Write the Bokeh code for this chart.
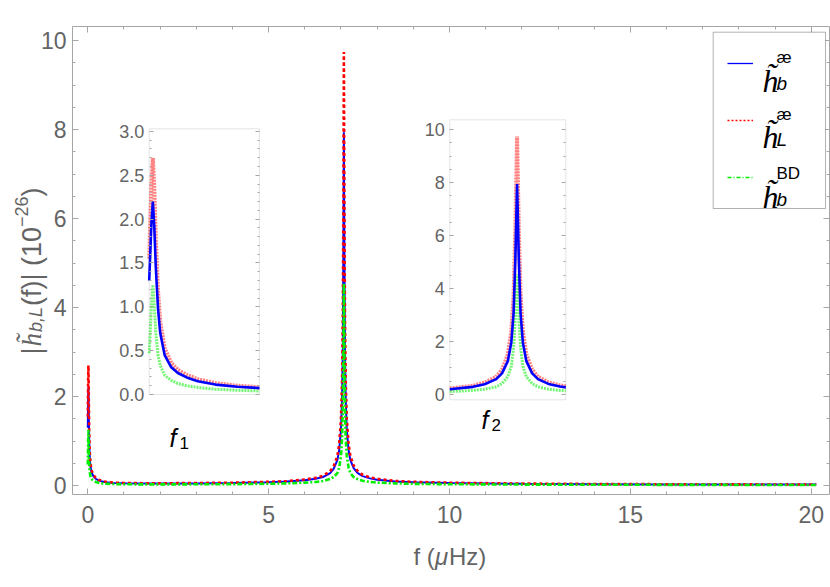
import numpy as np
from bokeh.plotting import figure
from bokeh.models import (Range1d, LinearAxis, FixedTicker, PrintfTickFormatter,
                          BoxAnnotation, Label, Legend, LegendItem, ColumnDataSource)
from bokeh.embed import file_html
from bokeh.resources import INLINE

# ---------------- data ----------------
freq = [0.000, 0.005, 0.010, 0.0165, 0.023, 0.030, 0.040, 0.050, 0.070, 0.100,
        0.130, 0.170, 0.220, 0.300, 0.400, 0.500, 0.700, 1.0, 1.5, 2.0,
        3.0, 4.0, 5.0, 5.5, 6.0, 6.3, 6.5, 6.7, 6.8, 6.9,
        6.95, 7.00, 7.03, 7.05, 7.065, 7.08, 7.095, 7.11, 7.13, 7.16,
        7.21, 7.26, 7.35, 7.45, 7.5, 7.6, 7.8, 8.0, 8.5, 9.0,
        10.0, 12.0, 14.0, 16.0, 18.0, 20.14]
h_b = [1.30, 1.62, 1.95, 2.20, 1.92, 1.45, 0.98, 0.70, 0.45, 0.31,
       0.245, 0.195, 0.152, 0.113, 0.088, 0.073, 0.058, 0.050, 0.046, 0.045,
       0.048, 0.056, 0.072, 0.088, 0.118, 0.150, 0.19, 0.28, 0.38, 0.57,
       0.79, 1.25, 1.95, 3.07, 5.10, 7.94, 5.10, 3.07, 1.95, 1.25,
       0.79, 0.57, 0.39, 0.29, 0.26, 0.21, 0.16, 0.13, 0.09, 0.072,
       0.054, 0.038, 0.030, 0.025, 0.022, 0.020]
h_L = [1.55, 1.98, 2.40, 2.70, 2.36, 1.78, 1.18, 0.83, 0.53, 0.36,
       0.28, 0.225, 0.175, 0.13, 0.10, 0.083, 0.066, 0.057, 0.052, 0.051,
       0.055, 0.064, 0.083, 0.10, 0.135, 0.172, 0.218, 0.32, 0.44, 0.66,
       0.93, 1.50, 2.37, 3.76, 6.25, 9.74, 6.25, 3.76, 2.37, 1.50,
       0.93, 0.66, 0.45, 0.335, 0.30, 0.24, 0.183, 0.15, 0.103, 0.083,
       0.062, 0.044, 0.034, 0.029, 0.025, 0.023]
h_BD = [0.47, 0.72, 1.02, 1.25, 1.02, 0.70, 0.45, 0.33, 0.22, 0.16,
        0.125, 0.10, 0.08, 0.06, 0.048, 0.04, 0.033, 0.028, 0.026, 0.025,
        0.027, 0.031, 0.04, 0.048, 0.064, 0.08, 0.10, 0.145, 0.19, 0.28,
        0.40, 0.66, 1.06, 1.75, 2.90, 4.54, 2.90, 1.75, 1.06, 0.66,
        0.40, 0.28, 0.19, 0.145, 0.13, 0.105, 0.08, 0.066, 0.047, 0.038,
        0.029, 0.021, 0.017, 0.015, 0.013, 0.012]

x_ticks = [0, 5, 10, 15, 20]
y_ticks = [0, 2, 4, 6, 8, 10]
inset1_ticks = [0.0, 0.5, 1.0, 1.5, 2.0, 2.5, 3.0]
inset2_ticks = [0, 2, 4, 6, 8, 10]

main_xlim = (-0.423, 20.506)
main_ylim = (-0.202, 10.315)
inset1_xlim = (0.0, 0.5)
inset1_ylim = (0.0, 3.03)
inset2_xlim = (6.5, 7.5)
inset2_ylim = (-0.21, 10.37)

# ---------------- layout constants (pixels in the picture) ----------------
W, H = 830, 587
MAIN_BOX = (72.0, 829.0, 26.0, 494.0)       # left, right, top, bottom
INSET1_BOX = (148.7, 259.0, 128.3, 394.0)
INSET2_BOX = (449.3, 565.3, 119.3, 399.3)
LEGEND_BOX = (712.7, 825.0, 31.7, 208.0)

FRAME_COL = "#a6a6a6"
TEXT_COL = "#646464"
FONT = "Liberation Sans"


def stretch(lo, hi, a, b, full):
    k = (hi - lo) / (b - a)
    return Range1d(lo - a * k, hi + (full - b) * k)


def box_ranges(box, xlim, ylim):
    l, r, t, b = box
    return (stretch(xlim[0], xlim[1], l, r, W),
            stretch(ylim[0], ylim[1], H - b, H - t, H))


mx, my = box_ranges(MAIN_BOX, main_xlim, main_ylim)
p = figure(width=W, height=H, x_range=mx, y_range=my,
           x_axis_location=None, y_axis_location=None, min_border=0,
           output_backend="svg", toolbar_location=None)
p.grid.visible = False
p.outline_line_color = None
p.background_fill_color = "white"
p.border_fill_color = "white"

i1x, i1y = box_ranges(INSET1_BOX, inset1_xlim, inset1_ylim)
i2x, i2y = box_ranges(INSET2_BOX, inset2_xlim, inset2_ylim)
p.extra_x_ranges = {"i1x": i1x, "i2x": i2x, "px": Range1d(0, W)}
p.extra_y_ranges = {"i1y": i1y, "i2y": i2y, "py": Range1d(H, 0)}


def lab(x, y, text, size, font=FONT, style="normal", color="black", angle=0.0,
        align="left", baseline="alphabetic"):
    return Label(x=x, y=y, x_range_name="px", y_range_name="py", text=text,
                 text_font_size=f"{size}px", text_font=font, text_font_style=style,
                 text_color=color, angle=angle, text_align=align, text_baseline=baseline,
                 level="overlay")


def frame_axes(xn, yn, xlim, ylim, xt, xm, yt, ym, size, maj, mnr):
    common = dict(major_tick_line_color=FRAME_COL, minor_tick_line_color=FRAME_COL,
                  axis_line_color=FRAME_COL)
    left = LinearAxis(x_range_name=xn, y_range_name=yn, fixed_location=xlim[0], bounds=ylim,
                      ticker=FixedTicker(ticks=yt, minor_ticks=ym),
                      major_tick_in=maj, major_tick_out=0, minor_tick_in=mnr, minor_tick_out=0,
                      major_label_text_font=FONT, major_label_text_font_size=f"{size}px",
                      major_label_text_color=TEXT_COL, major_label_standoff=6, **common)
    right = LinearAxis(x_range_name=xn, y_range_name=yn, fixed_location=xlim[1], bounds=ylim,
                       ticker=FixedTicker(ticks=yt, minor_ticks=ym),
                       major_tick_in=0, major_tick_out=maj, minor_tick_in=0, minor_tick_out=mnr,
                       major_label_text_color=None, **common)
    p.add_layout(left, "left")
    p.add_layout(right, "left")
    bottom = LinearAxis(x_range_name=xn, y_range_name=yn, fixed_location=ylim[0], bounds=xlim,
                        ticker=FixedTicker(ticks=xt, minor_ticks=xm),
                        major_tick_in=maj, major_tick_out=0, minor_tick_in=mnr, minor_tick_out=0,
                        major_label_text_font=FONT, major_label_text_font_size=f"{size}px",
                        major_label_text_color=TEXT_COL, major_label_standoff=11, **common)
    top = LinearAxis(x_range_name=xn, y_range_name=yn, fixed_location=ylim[1], bounds=xlim,
                     ticker=FixedTicker(ticks=xt, minor_ticks=xm),
                     major_tick_in=0, major_tick_out=maj, minor_tick_in=0, minor_tick_out=mnr,
                     major_label_text_color=None, **common)
    p.add_layout(bottom, "below")
    p.add_layout(top, "below")


# ---------------- main axes / frame ----------------
x_minor = [v for v in np.arange(0.0, 20.5, 1.0) if v not in x_ticks]
y_minor = [v for v in np.arange(0.0, 10.3, 0.5) if v not in y_ticks]
frame_axes("default", "default", main_xlim, main_ylim, x_ticks, x_minor, y_ticks, y_minor,
           23, 6, 3)

# ---------------- main curves ----------------
src = ColumnDataSource(dict(f=freq, hb=h_b, hL=h_L, hBD=h_BD))
rb = p.line("f", "hb", source=src, line_color="#0000ff", line_width=2)
rl = p.line("f", "hL", source=src, line_color="#ff0000", line_width=2.6, line_dash="3 3")
rg = p.line("f", "hBD", source=src, line_color="#00ee00", line_width=2.6, line_dash="5 2 2 2")

# ---------------- insets ----------------
farr = np.array(freq)


def add_inset(name_x, name_y, xlim, ylim, ticks, minor, fmt):
    box = BoxAnnotation(left=xlim[0], right=xlim[1], bottom=ylim[0], top=ylim[1],
                        x_range_name=name_x, y_range_name=name_y,
                        fill_color="white", fill_alpha=1.0, line_color=FRAME_COL,
                        line_width=1, level="underlay")
    p.add_layout(box)
    m = (farr >= xlim[0]) & (farr <= xlim[1])
    s = ColumnDataSource(dict(f=farr[m], hb=np.array(h_b)[m], hL=np.array(h_L)[m],
                              hBD=np.array(h_BD)[m]))
    p.line("f", "hL", source=s, x_range_name=name_x, y_range_name=name_y,
           line_color="#ff0000", line_alpha=0.5, line_width=4, line_dash="2 1")
    p.line("f", "hBD", source=s, x_range_name=name_x, y_range_name=name_y,
           line_color="#00ee00", line_alpha=0.55, line_width=3, line_dash="2 1")
    p.line("f", "hb", source=s, x_range_name=name_x, y_range_name=name_y,
           line_color="#0000ff", line_width=2.6)
    ax = LinearAxis(x_range_name=name_x, y_range_name=name_y, fixed_location=xlim[0],
                    bounds=ylim, ticker=FixedTicker(ticks=ticks, minor_ticks=minor),
                    axis_line_color=None, major_tick_in=4, major_tick_out=0,
                    minor_tick_in=2, minor_tick_out=0,
                    major_tick_line_color=FRAME_COL, minor_tick_line_color=FRAME_COL,
                    major_label_text_font=FONT, major_label_text_font_size="18px",
                    major_label_text_color=TEXT_COL, major_label_standoff=5)
    if fmt:
        ax.formatter = PrintfTickFormatter(format=fmt)
    p.add_layout(ax, "left")
    axr = LinearAxis(x_range_name=name_x, y_range_name=name_y, fixed_location=xlim[1],
                     bounds=ylim, ticker=FixedTicker(ticks=ticks, minor_ticks=minor),
                     axis_line_color=None, major_tick_in=0, major_tick_out=4,
                     minor_tick_in=0, minor_tick_out=2, major_label_text_color=None,
                     major_tick_line_color=FRAME_COL, minor_tick_line_color=FRAME_COL)
    p.add_layout(axr, "left")


i1_minor = [round(v, 2) for v in np.arange(0.0, 3.01, 0.1) if round(v, 2) not in inset1_ticks]
i2_minor = [v for v in np.arange(0.0, 10.1, 0.5) if v not in inset2_ticks]
add_inset("i1x", "i1y", inset1_xlim, inset1_ylim, inset1_ticks, i1_minor, "%.1f")
add_inset("i2x", "i2y", inset2_xlim, inset2_ylim, inset2_ticks, i2_minor, None)

# ---------------- legend ----------------
lbox = BoxAnnotation(left=LEGEND_BOX[0], right=LEGEND_BOX[1], top=LEGEND_BOX[2],
                     bottom=LEGEND_BOX[3], x_range_name="px", y_range_name="py",
                     fill_color="white", fill_alpha=1.0, line_color="black", line_width=1)
p.add_layout(lbox)
# legend-only swatches (thin lines, nothing drawn on the plot)
swatch = ColumnDataSource(dict(f=[np.nan], v=[np.nan]))
kb = p.line("f", "v", source=swatch, line_color="#0000ff", line_width=1.3)
kl = p.line("f", "v", source=swatch, line_color="#ff0000", line_width=1.3, line_dash="2 2")
kg = p.line("f", "v", source=swatch, line_color="#00ee00", line_width=1.3, line_dash="4 2 1 2")
legend = Legend(items=[LegendItem(label=" ", renderers=[kb]),
                       LegendItem(label=" ", renderers=[kl]),
                       LegendItem(label=" ", renderers=[kg])],
                location=(LEGEND_BOX[0], H - LEGEND_BOX[3]), padding=14, spacing=23, margin=0,
                glyph_width=26, glyph_height=34, label_height=34, label_width=50,
                label_standoff=8, label_text_font_size="10px",
                label_text_color="white", label_text_alpha=0.0,
                border_line_alpha=0.0, background_fill_alpha=0.0)
p.add_layout(legend)

legend_rows = [  # (h baseline, superscript, sup baseline, subscript, sub baseline)
    (80, "æ", 57, "b", 83),
    (136, "æ", 114, "L", 139),
    (196, "BD", 173, "b", 199),
]
for hy, sup, sy, sub, by in legend_rows:
    p.add_layout(lab(762, hy, "h̃", 32, font="Liberation Serif", style="italic"))
    p.add_layout(lab(776, sy, sup, 17))
    p.add_layout(lab(776, by, sub, 19, style="italic"))

# inset captions f1, f2
p.add_layout(lab(169, 437, "f", 25, style="italic"))
p.add_layout(lab(179, 442, "1", 17))
p.add_layout(lab(481, 419, "f", 25, style="italic"))
p.add_layout(lab(491, 424, "2", 17))

# x-axis title  f (μHz)
p.add_layout(lab(413, 556, "f (", 24, color=TEXT_COL))
p.add_layout(lab(434.5, 556, "μ", 24, style="italic", color=TEXT_COL))
p.add_layout(lab(448.5, 556, "Hz)", 24, color=TEXT_COL))

# ---------------- rotated y-axis label ----------------
ANG = np.pi / 2
BX = 31          # baseline x
pieces = [("|", 27, FONT, "normal", 0, 8.0),
          ("h̃", 27, "Liberation Serif", "italic", 0, 14.5),
          ("b,L", 18, FONT, "italic", 4, 26.0),
          ("(f)| (10", 27, FONT, "normal", 0, 79.0),
          ("−26", 18, FONT, "normal", -10, 30.5),
          (")", 27, FONT, "normal", 0, 9.0)]
ypos = 354
for txt, size, font, style, dx, w in pieces:
    p.add_layout(lab(BX + dx, ypos, txt, size, font=font, style=style, color=TEXT_COL, angle=ANG))
    ypos -= w

open("out.html", "w").write(file_html(p, INLINE))
